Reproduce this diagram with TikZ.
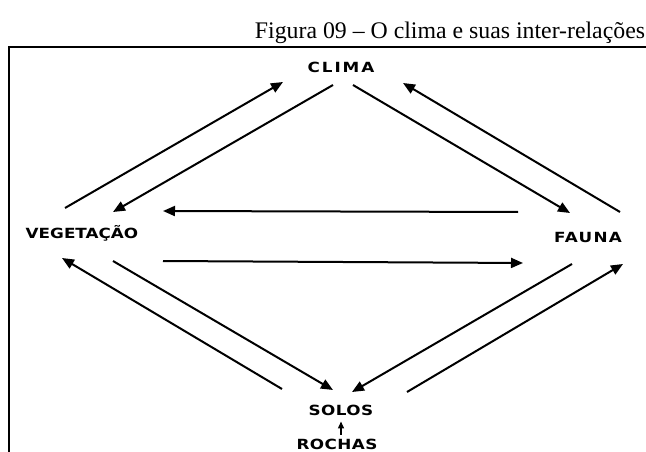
\documentclass[tikz,border=0pt]{standalone}
\usepackage{fontspec}
\setmainfont{Liberation Serif}
\newfontfamily\lblfont[FakeStretch=1.2]{DejaVu Sans}
\usetikzlibrary{arrows.meta}

\begin{document}
\begin{tikzpicture}[x=1pt,y=-1pt,>={Triangle[length=12pt,width=10pt]}]
 \tikzset{lbl/.style={inner sep=1pt,font=\lblfont\bfseries\fontsize{14}{16}\selectfont\addfontfeature{LetterSpace=#1}},
          lbl/.default=5,
          arr/.style={->,line width=2pt},
          thinarr/.style={-{Triangle[length=7pt,width=6pt]},line width=1.4pt,shorten <=3pt,shorten >=5pt}}
 \useasboundingbox (0,0) rectangle (646,452);
 \node[font=\fontsize{23.8}{26}\selectfont] (title) at (450,33) {Figura 09 -- O clima e suas inter-relações};
 \draw[line width=1.2pt] (646,47) -- (9,47) -- (9,452);
 % fatores
 \node[lbl=14] (clima) at (341,67) {CLIMA};
 \node[lbl=0] (veg) at (82,233) {VEGETAÇÃO};
 \node[lbl=9] (fauna) at (588,237) {FAUNA};
 \node[lbl=3] (solos) at (341,410) {SOLOS};
 \node[lbl=3] (rochas) at (337,444) {ROCHAS};
 % clima <-> vegetacao, clima <-> fauna
 \draw[arr] ([shift={(-17,-25)}]veg.center) -- ([shift={(-58,15)}]clima.center);
 \draw[arr] ([shift={(-8,18)}]clima.center) -- ([shift={(31,-21)}]veg.center);
 \draw[arr] ([shift={(12,18)}]clima.center) -- ([shift={(-18,-24)}]fauna.center);
 \draw[arr] ([shift={(32,-25)}]fauna.center) -- ([shift={(62,16)}]clima.center);
 % vegetacao <-> fauna
 \draw[arr] ([shift={(-70,-25)}]fauna.center) -- ([shift={(81,-22)}]veg.center);
 \draw[arr] ([shift={(81,28)}]veg.center) -- ([shift={(-65,26)}]fauna.center);
 % solos <-> vegetacao, solos <-> fauna
 \draw[arr] ([shift={(-59,-21)}]solos.center) -- ([shift={(-20,25)}]veg.center);
 \draw[arr] ([shift={(31,28)}]veg.center) -- ([shift={(-8,-20)}]solos.center);
 \draw[arr] ([shift={(-16,27)}]fauna.center) -- ([shift={(11,-18)}]solos.center);
 \draw[arr] ([shift={(66,-18)}]solos.center) -- ([shift={(35,27)}]fauna.center);
 \draw[thinarr] (solos.south |- rochas.north) -- (solos.south);
\end{tikzpicture}
\end{document}
